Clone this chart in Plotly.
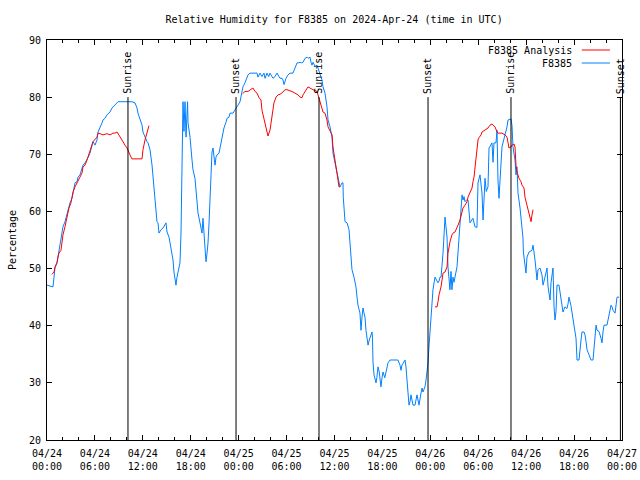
import pandas as pd
import plotly.graph_objects as go

BASE = "2024-04-24 00:00"

# Observed station relative humidity (hours since 2024-04-24 00:00 UTC, %)
obs_hours = [0, 0.75, 0.88, 1.0, 1.25, 1.38, 1.5, 1.75, 1.88, 2.0, 2.25, 2.5, 2.75, 2.88, 3.13, 3.26, 3.51, 3.76, 3.88, 4.13,
             4.38, 4.51, 4.76, 5.01, 5.13, 5.38, 5.63, 5.76, 6.01, 6.26, 6.39, 6.64, 6.89, 7.01, 7.26, 7.51, 7.64, 7.89, 8.14, 8.26,
             8.51, 8.77, 8.89, 9.39, 10.14, 10.64, 11.02, 11.27, 11.39, 11.65, 11.9, 12.02, 12.27, 12.52, 12.65, 12.9, 13.15, 13.27, 13.52, 13.77,
             13.9, 14.02, 14.28, 14.53, 14.9, 15.03, 15.28, 15.53, 15.78, 15.9, 16.03, 16.15, 16.28, 16.4, 16.65, 16.78, 16.9, 16.95, 17.03, 17.15,
             17.28, 17.41, 17.53, 17.6, 17.66, 17.91, 18.16, 18.28, 18.53, 18.66, 18.78, 18.91, 19.16, 19.28, 19.41, 19.53, 19.65, 19.78, 19.91, 20.04,
             20.16, 20.29, 20.41, 20.54, 20.66, 20.79, 20.91, 21.04, 21.16, 21.29, 21.54, 21.79, 21.91, 22.04, 22.16, 22.41, 22.54, 22.79, 22.92, 23.29,
             23.54, 23.79, 23.92, 24.17, 24.42, 24.54, 24.79, 25.04, 25.17, 25.42, 26.3, 26.42, 26.67, 26.92, 27.17, 27.3, 27.55, 27.75, 27.92, 28.17,
             28.3, 28.55, 28.8, 29.05, 29.18, 29.43, 29.55, 29.68, 29.93, 30.18, 30.43, 30.8, 31.05, 31.31, 31.5, 31.68, 31.85, 32.06, 32.31, 32.56,
             32.7, 32.93, 33.06, 33.18, 33.31, 33.56, 33.81, 33.93, 34.18, 34.43, 34.56, 34.81, 35.06, 35.19, 35.44, 35.69, 35.81, 36.06, 36.31, 36.44,
             36.69, 36.94, 37.06, 37.1, 37.19, 37.32, 37.57, 37.82, 37.94, 38.07, 38.19, 38.44, 38.69, 38.82, 38.94, 39.19, 39.32, 39.44, 39.57, 39.7,
             39.82, 39.94, 40.07, 40.2, 40.35, 40.57, 40.7, 40.76, 40.82, 40.95, 41.2, 41.3, 41.45, 41.6, 41.82, 41.95, 42.07, 42.3, 42.57, 42.7,
             42.95, 43.95, 44.2, 44.33, 44.45, 44.7, 44.83, 44.95, 45.08, 45.2, 45.33, 45.45, 45.58, 45.7, 45.83, 46.08, 46.21, 46.33, 46.46, 46.58,
             46.83, 46.96, 47.08, 47.33, 47.46, 47.58, 47.71, 47.83, 47.96, 48.08, 48.21, 48.33, 48.58, 48.84, 48.96, 49.09, 49.21, 49.34, 49.46, 49.59,
             49.84, 50.09, 50.21, 50.46, 50.59, 50.71, 50.84, 50.96, 51.34, 51.72, 51.97, 52.09, 52.22, 52.34, 52.59, 52.72, 52.97, 53.34, 53.59, 53.84,
             53.97, 54.22, 54.47, 54.6, 54.85, 55.0, 55.22, 55.35, 55.72, 55.85, 55.97, 56.22, 56.35, 56.47, 56.6, 56.97, 57.1, 57.35, 57.6, 57.73,
             58.1, 58.23, 58.35, 58.6, 58.73, 58.85, 58.98, 59.23, 59.48, 59.6, 59.65, 59.85, 59.98, 60.1, 60.36, 60.73, 60.86, 61.11, 61.23, 61.36,
             61.48, 61.73, 61.98, 62.11, 62.36, 62.61, 62.74, 62.99, 63.11, 63.24, 63.36, 63.49, 63.61, 63.74, 63.86, 64.11, 64.24, 64.49, 64.61, 64.86,
             65.11, 65.24, 65.36, 65.61, 65.86, 65.99, 66.12, 66.24, 66.37, 66.62, 66.87, 66.99, 67.24, 67.37, 67.5, 67.62, 67.87, 68.12, 68.37, 68.5,
             68.75, 68.87, 69.12, 69.37, 69.5, 69.62, 69.75, 70.12, 70.25, 70.37, 70.63, 70.75, 70.88, 71.13, 71.25, 71.38, 71.63]
obs_rh = [47.1, 46.8, 48.5, 50.1, 51, 52, 53.6, 55, 56.4, 57.3, 58.2, 59.7, 60.8, 61.5, 62.3, 63.4, 65, 65.2, 66, 66.4,
          67.3, 68.1, 68.5, 69, 69.4, 70.2, 71.3, 72.2, 71.6, 72.5, 73.9, 74.6, 75.5, 76, 76.3, 76.9, 77.1, 77.4, 78.1, 78.3,
          78.6, 79, 79.2, 79.2, 79.2, 79.2, 79, 78.1, 77.2, 76.3, 75.1, 73.9, 72.9, 72.2, 72, 70.8, 68.1, 66, 62.5, 58.2,
          58, 56.2, 56.8, 57.1, 58, 56.4, 55.5, 53.2, 51.5, 49.4, 48, 47.1, 48.5, 49.4, 51, 56.2, 65.5, 74.6, 79.2, 74,
          79.2, 73, 77.7, 79.2, 75.5, 73, 69, 67.3, 65.8, 63.8, 62, 59.7, 58, 56.8, 56.2, 58.8, 56.2, 52.7, 51.2, 52.7,
          54.5, 58, 62, 66.7, 70.4, 71.1, 69.5, 68.1, 69.5, 69.9, 70.2, 72, 73.4, 74.2, 74.6, 75.6, 76.3, 76.5, 77.2, 77.2,
          77.7, 78.3, 78.6, 79.2, 80.7, 81.8, 82.5, 83.3, 83.9, 84.2, 84.2, 83.5, 84.2, 83.6, 84.2, 83.3, 84.2, 83.6, 84.2, 83.6,
          83.3, 83.6, 84.2, 83.6, 83.3, 83.3, 83, 82.2, 83.3, 83.9, 84.2, 84.2, 85.1, 86, 86, 86.1, 86, 86.1, 86.8, 87,
          86.8, 87, 86.1, 85.6, 86.1, 85.4, 85.6, 85.1, 84.2, 83, 81.8, 80.7, 78.3, 76, 74.8, 73, 70.2, 68.5, 66.7, 65.5,
          64.3, 65, 65, 62.5, 59.7, 58.2, 58, 56.8, 54.5, 51.5, 49.8, 48.5, 46.8, 45, 43.6, 42.2, 39.2, 41.5, 43.1, 42.2,
          41.5, 39.2, 37.5, 36.6, 37.5, 38.7, 38.9, 37.8, 33.7, 31.4, 30, 30.9, 32.8, 31.9, 29.3, 30.9, 31.9, 30.9, 32.6, 33.5,
          34, 34, 33.1, 32.2, 33.1, 33.7, 34, 32.8, 30, 27.5, 26.1, 26.7, 27.9, 27, 26.1, 26.1, 27.3, 27.9, 27, 26.1,
          28.2, 29.1, 28.4, 29.3, 30.5, 31.7, 33.5, 36.3, 38.7, 41.5, 44, 46.3, 48.5, 47.8, 47.5, 47.8, 48.5, 48.5, 50.6, 52.7,
          59, 55.5, 50.3, 46.3, 49.5, 46.3, 48.5, 47.6, 50.3, 58.5, 62.9, 62, 62.6, 61.7, 62.1, 62, 58, 58.8, 57.3, 57.2,
          65, 66.4, 63.2, 58.5, 65.8, 63.5, 64.3, 71.1, 72, 68.6, 72, 72, 74.2, 65.5, 62.3, 71.3, 72, 73.7, 74.8, 76,
          76.2, 75, 71.3, 69, 66.4, 67.8, 63.2, 60.6, 57.6, 55.4, 52.9, 51, 49.2, 52, 52.9, 53.2, 54.1, 51.5, 48.9, 48,
          49.8, 50.1, 48.9, 47.1, 48.5, 50.1, 46.8, 44.5, 47.5, 49.2, 50.1, 43.3, 41, 42.5, 47.1, 47.1, 45.7, 43.6, 42.4, 43.3,
          43.0, 43.8, 45, 43.5, 41.5, 40.5, 38.9, 37.8, 34, 34, 37.5, 38.9, 38.9, 38.4, 37.2, 35.8, 34.9, 34, 34, 36.3,
          40.1, 39.2, 39.0, 37.8, 37, 38.9, 40.1, 40.1, 41, 42.2, 43.6, 43.3, 42.7, 42.2, 44, 45, 45]

# Analysis relative humidity (three daytime segments, separated by gaps)
ana_hours = [0.63, 0.88, 1.0, 1.25, 1.38, 1.5, 1.75, 1.88, 2.0, 2.25, 2.5, 2.63, 2.75, 3.0, 3.13, 3.26, 3.51, 3.76, 3.88, 4.13,
             4.38, 4.51, 4.76, 5.01, 5.13, 5.38, 5.63, 5.76, 6.26, 6.39, 6.64, 7.01, 7.51, 7.89, 8.26, 8.51, 8.77, 9.02, 9.39, 9.76,
             10.02, 10.39, 10.64, 11.9, 12.02, 12.27, 12.52, 12.65, 12.77, None,
             24.5, 24.79, 25.17, 25.42, 25.79, 26.05, 26.3, 26.55, 26.8, 26.92, 27.17, 27.42, 27.55, 27.67, 27.92, 28.05, 28.17, 28.42, 28.68, 28.93,
             29.18, 29.43, 29.55, 29.8, 30.05, 30.43, 30.68, 31.05, 31.43, 31.68, 31.93, 32.06, 32.31, 32.56, 32.68, 32.93, 33.18, 33.31, 33.81, 33.93,
             34.18, 34.43, 34.56, 34.81, 35.06, 35.19, 35.44, 35.69, 35.81, 35.94, 36.06, 36.31, 36.44, 36.56, 36.69, None,
             48.58, 48.84, 48.96, 49.09, 49.34, 49.46, 49.59, 49.84, 50.09, 50.21, 50.34, 50.46, 50.71, 50.84, 51.09, 51.34, 51.47, 51.72, 51.97, 52.09,
             52.34, 52.59, 52.72, 52.97, 53.22, 53.34, 53.47, 53.59, 53.72, 53.84, 53.97, 54.09, 54.35, 54.47, 54.72, 55.1, 55.22, 55.47, 55.72, 55.85,
             56.1, 56.35, 56.47, 56.97, 57.1, 57.35, 57.6, 57.73, 57.85, 58.1, 58.23, 58.48, 58.6, 58.73, 58.85, 59.1, 59.35, 59.48, 59.73, 59.85,
             60.1, 60.23, 60.48, 60.61, 60.73, 60.86]
ana_rh = [49, 49.4, 50.3, 51, 52, 52.7, 53.2, 54.5, 55.9, 57.3, 58.8, 59.9, 60.6, 61.5, 62.5, 63.4, 64.3, 65, 65.5, 66,
          66.7, 67.8, 68.1, 69, 69.5, 70.4, 71.3, 72.2, 73, 73.7, 73.6, 73.4, 73.6, 73.4, 73.7, 73.7, 73.9, 73.4, 72.5, 71.6,
          71.1, 69.9, 69.2, 69.2, 70.8, 72.5, 73.9, 74.6, 75, None,
          80.6, 81, 81, 81.3, 81.6, 81, 80.7, 79.9, 79.5, 77.7, 76, 74.8, 73.9, 73.2, 74.2, 75.6, 77.2, 79, 80, 80.4,
          80.5, 80.7, 80.9, 81.3, 81.3, 81.1, 81, 80.7, 80.4, 80, 79.9, 80.4, 81, 81.6, 81.8, 81.6, 81.3, 81.3, 81, 80.4,
          79.5, 78.3, 77.4, 77.2, 76, 74.8, 74.2, 73.4, 71.3, 69.9, 68.5, 66.7, 65.5, 64.3, 64.3, None,
          43.3, 43.3, 44.2, 45.4, 46.8, 48, 49.2, 49.4, 50.3, 52.7, 53.8, 54.7, 55.9, 56.2, 56.4, 57.1, 57.6, 58.5, 59.7, 60.6,
          61.1, 61.7, 62.5, 63.2, 64.1, 65.2, 66, 67.6, 69.5, 71.1, 72.5, 72.9, 73.4, 73.9, 74.1, 74.4, 74.6, 75.1, 75.3, 75.1,
          74.8, 73.9, 73.7, 73.7, 73.6, 73.4, 73, 72.2, 71.1, 71.3, 71.6, 71.8, 71.3, 68.1, 66.9, 65.8, 65.2, 64.6, 64.1, 62.5,
          61.1, 60.3, 59, 58.2, 59.4, 60.3]

# Sun events (hours since 2024-04-24 00:00 UTC)
sun_event_hours = [10.14, 23.67, 34.06, 47.71, 58.1, 71.8]
sun_event_labels = ["Sunrise", "Sunset", "Sunrise", "Sunset", "Sunrise", "Sunset"]

x_range_hours = [0, 72]
y_range = [20, 90]

base = pd.Timestamp(BASE)


def to_time(hours):
    return [None if h is None else base + pd.Timedelta(hours=h) for h in hours]


FONT = "DejaVu Sans Mono"
FS = 10
fig = go.Figure()

fig.add_trace(go.Scatter(x=to_time(obs_hours), y=obs_rh, mode="lines", name="F8385",
                         line=dict(color="#0080ff", width=1), showlegend=False))
fig.add_trace(go.Scatter(x=to_time(ana_hours), y=ana_rh, mode="lines", name="F8385 Analysis",
                         line=dict(color="#ff0000", width=1), connectgaps=False, showlegend=False))

for h, lab in zip(sun_event_hours, sun_event_labels):
    t = base + pd.Timedelta(hours=h)
    fig.add_shape(type="line", xref="x", yref="y", x0=t, x1=t, y0=20, y1=80,
                  line=dict(color="black", width=1))
    fig.add_annotation(x=t, y=80.4, xref="x", yref="y", text=lab, textangle=-90,
                       showarrow=False, xanchor="center", yanchor="bottom",
                       font=dict(family=FONT, size=FS, color="black"), borderpad=0)

# legend (gnuplot style: text right-aligned, sample line on the right)
legend_items = [("F8385 Analysis", "#ff0000"), ("F8385", "#0080ff")]
for i, (name, col) in enumerate(legend_items):
    yp = 0.975 - i * 0.0325
    fig.add_annotation(x=0.917, y=yp, xref="paper", yref="paper", text=name, showarrow=False,
                       xanchor="right", yanchor="middle", font=dict(family=FONT, size=FS, color="black"))
    fig.add_shape(type="line", xref="paper", yref="paper", x0=0.930, x1=0.979, y0=yp, y1=yp,
                  line=dict(color=col, width=1))

fig.update_layout(
    width=640, height=480,
    margin=dict(l=47, r=18, t=40, b=40, autoexpand=False),
    paper_bgcolor="white", plot_bgcolor="white",
    font=dict(family=FONT, size=FS, color="black"),
    title=dict(text="Relative Humidity for F8385 on 2024-Apr-24 (time in UTC)",
               x=0.522, xanchor="center", y=1 - 19 / 480, yanchor="middle", yref="container",
               font=dict(family=FONT, size=FS, color="black")),
    showlegend=False,
)

fig.update_xaxes(
    type="date", automargin=False,
    range=[base + pd.Timedelta(hours=x_range_hours[0]), base + pd.Timedelta(hours=x_range_hours[1])],
    dtick=6 * 3600 * 1000, tick0=base, tickformat="%m/%d<br>%H:%M",
    ticks="inside", ticklen=5, tickcolor="black", tickwidth=1, ticklabelstandoff=4,
    ticklabeloverflow="allow",
    minor=dict(dtick=2 * 3600 * 1000, ticks="inside", ticklen=3, tickcolor="black", tickwidth=1, showgrid=False),
    showline=True, linecolor="black", linewidth=1, mirror="ticks",
    showgrid=False, zeroline=False,
    tickfont=dict(family=FONT, size=FS, color="black"),
)
fig.update_yaxes(
    range=y_range, dtick=10, ticks="inside", ticklen=5, tickcolor="black", tickwidth=1,
    automargin=False, ticklabelstandoff=3,
    showline=True, linecolor="black", linewidth=1, mirror="ticks",
    showgrid=False, zeroline=False,
    title=dict(text="Percentage", font=dict(family=FONT, size=FS, color="black"), standoff=10),
    tickfont=dict(family=FONT, size=FS, color="black"),
)

# remove the default page margin so the 640x480 figure fills the window exactly
fig.write_html("out.html", config={"displayModeBar": False},
               post_script="document.body.style.margin='0';")
